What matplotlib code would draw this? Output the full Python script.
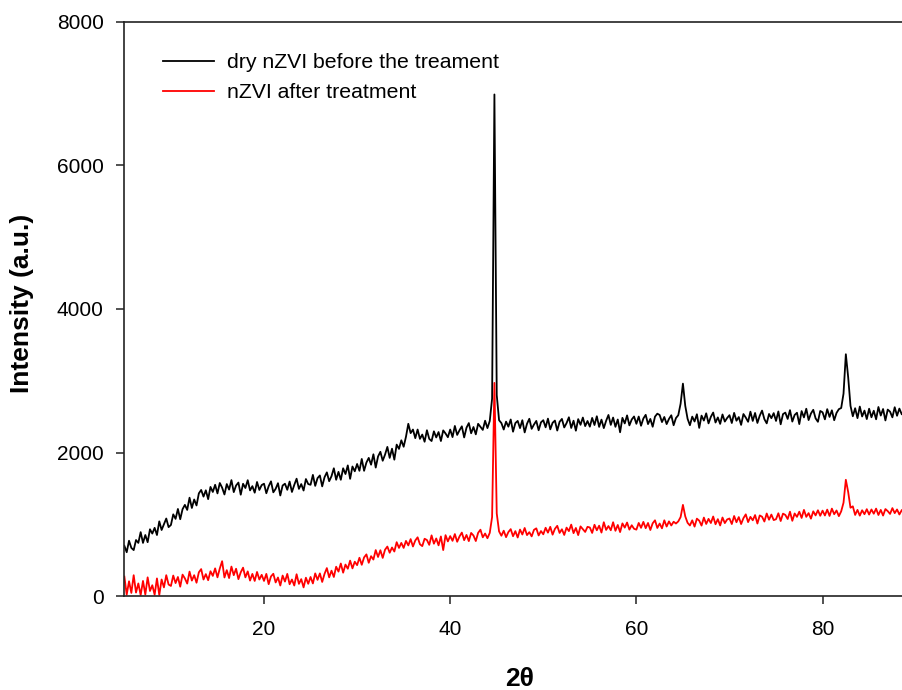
import numpy as np
import matplotlib
matplotlib.use("Agg")
import matplotlib.pyplot as plt

plt.rcParams['font.family'] = ['Liberation Sans', 'DejaVu Sans']

# 2-theta scan grid (0.25 deg steps from 5 to 88.5)
two_theta = np.arange(5.0, 88.5 + 0.001, 0.25)

# dry nZVI before the treament (black)
dry_nzvi = [
    700, 610, 770, 670, 640, 780, 740, 890, 740, 850, 750, 930, 870, 950, 850, 1040, 920, 1000, 1080, 960,
    990, 1138, 1075, 1213, 1070, 1210, 1270, 1200, 1370, 1227, 1345, 1262, 1430, 1478, 1385, 1473, 1350, 1520, 1450, 1550,
    1430, 1575, 1510, 1415, 1560, 1483, 1615, 1448, 1540, 1581, 1412, 1564, 1505, 1614, 1472, 1531, 1440, 1589, 1478, 1546,
    1565, 1432, 1530, 1598, 1445, 1494, 1572, 1401, 1540, 1565, 1480, 1595, 1450, 1548, 1635, 1493, 1560, 1470, 1630, 1560,
    1550, 1688, 1535, 1643, 1680, 1528, 1655, 1723, 1600, 1670, 1780, 1620, 1730, 1620, 1780, 1700, 1820, 1633, 1805, 1738,
    1840, 1745, 1910, 1745, 1860, 1925, 1830, 1975, 1790, 1945, 2010, 1885, 1970, 2078, 1925, 2053, 1900, 2110, 2050, 2170,
    2080, 2220, 2400, 2270, 2320, 2200, 2320, 2190, 2250, 2150, 2310, 2190, 2160, 2295, 2210, 2285, 2160, 2308, 2265, 2213,
    2320, 2215, 2370, 2245, 2310, 2365, 2210, 2345, 2410, 2268, 2355, 2253, 2400, 2358, 2315, 2443, 2340, 2440, 2750, 6990,
    2800, 2450, 2410, 2320, 2430, 2360, 2460, 2290, 2410, 2440, 2340, 2450, 2280, 2400, 2470, 2330, 2390, 2440, 2310, 2420,
    2450, 2351, 2472, 2323, 2414, 2445, 2306, 2427, 2468, 2349, 2410, 2491, 2342, 2443, 2304, 2465, 2386, 2487, 2368, 2439,
    2360, 2482, 2383, 2505, 2357, 2458, 2340, 2442, 2523, 2385, 2487, 2358, 2460, 2282, 2483, 2405, 2517, 2378, 2460, 2502,
    2400, 2501, 2373, 2474, 2525, 2396, 2468, 2359, 2500, 2541, 2523, 2424, 2495, 2396, 2468, 2519, 2380, 2480, 2520, 2680,
    2960, 2650, 2470, 2380, 2500, 2432, 2533, 2343, 2514, 2445, 2546, 2406, 2497, 2557, 2418, 2489, 2399, 2530, 2431, 2481,
    2520, 2411, 2552, 2443, 2494, 2385, 2536, 2487, 2428, 2569, 2440, 2551, 2412, 2513, 2584, 2465, 2406, 2537, 2478, 2549,
    2440, 2572, 2393, 2535, 2556, 2468, 2590, 2431, 2523, 2554, 2396, 2577, 2489, 2610, 2452, 2543, 2595, 2476, 2428, 2579,
    2560, 2462, 2604, 2496, 2588, 2450, 2552, 2604, 2620, 2820, 3370, 3050, 2650, 2505, 2617, 2479, 2640, 2502, 2584, 2466,
    2610, 2491, 2582, 2463, 2634, 2515, 2606, 2447, 2598, 2569, 2490, 2631, 2512, 2612, 2535,
]

# nZVI after treatment (red)
treated_nzvi = [
    270, 18, 205, 43, 290, 48, 175, 13, 210, 20, 260, 70, 150, 18, 245, 13, 230, 120, 290, 160,
    140, 285, 180, 265, 130, 298, 245, 173, 340, 215, 290, 185, 330, 375, 230, 305, 220, 345, 280, 385,
    260, 383, 485, 258, 360, 250, 410, 290, 380, 235, 330, 395, 260, 343, 215, 308, 210, 335, 230, 295,
    210, 308, 165, 273, 310, 189, 258, 146, 285, 201, 308, 164, 230, 146, 303, 169, 235, 120, 255, 170,
    265, 175, 315, 225, 315, 196, 308, 389, 260, 353, 265, 408, 340, 453, 325, 438, 380, 493, 385, 478,
    430, 533, 435, 538, 580, 463, 555, 508, 640, 544, 638, 531, 645, 689, 603, 676, 620, 750, 670, 740,
    670, 768, 705, 793, 690, 774, 818, 721, 695, 798, 780, 713, 845, 729, 802, 706, 830, 640, 848, 761,
    835, 769, 863, 756, 830, 884, 778, 851, 765, 879, 843, 766, 880, 924, 818, 871, 805, 880, 1100, 2970,
    1150, 900, 840, 910, 820, 891, 932, 833, 904, 815, 926, 857, 948, 849, 890, 831, 922, 943, 844, 905,
    860, 951, 883, 964, 855, 936, 978, 879, 930, 851, 953, 904, 995, 876, 948, 849, 970, 931, 893, 964,
    955, 879, 993, 916, 980, 884, 1028, 921, 975, 916, 1028, 909, 990, 891, 1012, 953, 1024, 925, 986, 937,
    925, 1018, 950, 1033, 945, 1018, 920, 1013, 1055, 948, 1010, 943, 1055, 968, 1040, 983, 1035, 1010, 1040, 1100,
    1270, 1110, 1020, 983, 1055, 967, 1078, 1050, 981, 1093, 1004, 1075, 1017, 1108, 1000, 1071, 983, 1094, 1016, 1067,
    1080, 1003, 1115, 1028, 1100, 1003, 1085, 1138, 1030, 1103, 1055, 1128, 1010, 1123, 1105, 1038, 1150, 1063, 1135, 1058,
    1070, 1153, 1045, 1148, 1130, 1073, 1175, 1048, 1150, 1103, 1175, 1088, 1200, 1103, 1155, 1078, 1180, 1123, 1195, 1118,
    1190, 1122, 1204, 1116, 1218, 1140, 1192, 1113, 1180, 1300, 1620, 1450, 1230, 1250, 1130, 1200, 1120, 1195, 1140, 1210,
    1135, 1206, 1147, 1218, 1129, 1200, 1121, 1212, 1183, 1144, 1225, 1155, 1206, 1136, 1195,
]

series_labels = ["dry nZVI before the treament", "nZVI after treatment"]
series_colors = ["#000000", "#ff0000"]
x_ticks = [20, 40, 60, 80]
y_ticks = [0, 2000, 4000, 6000, 8000]

W, H = 903, 690
fig = plt.figure(figsize=(W / 100, H / 100), dpi=100)
ax = fig.add_axes([124 / W, 94 / H, (W - 124) / W, (596 - 22) / H])

ax.plot(two_theta, dry_nzvi, color=series_colors[0], lw=1.3, label=series_labels[0])
ax.plot(two_theta, treated_nzvi, color=series_colors[1], lw=1.3, label=series_labels[1])

ax.set_xlim(4.96, 88.64)
ax.set_ylim(0, 8000)
ax.set_xticks(x_ticks)
ax.set_yticks(y_ticks)

for s in ['left', 'bottom', 'top']:
    ax.spines[s].set_linewidth(1.2)
    ax.spines[s].set_color('#222222')
ax.spines['right'].set_visible(False)

ax.tick_params(axis='both', direction='out', length=5.5, width=1.1, color='#222222',
               labelsize=15, top=False, right=False)
ax.tick_params(axis='y', pad=9)
ax.tick_params(axis='x', pad=12)

fig.text(22 / W, 1 - 303 / H, "Intensity (a.u.)", rotation=90, fontsize=19,
         fontweight='bold', ha='center', va='center')
fig.text(520 / W, 1 - 679 / H, "2\u03b8", fontsize=19, fontweight='bold',
         ha='center', va='center')

leg = ax.legend(loc='upper left', bbox_to_anchor=(163 / W, 1 - 53 / H),
                bbox_transform=fig.transFigure, frameon=False, fontsize=15.3,
                handlelength=2.4, handletextpad=0.6, labelspacing=0.52,
                borderpad=0, borderaxespad=0)

fig.savefig("out.png", dpi=100)
